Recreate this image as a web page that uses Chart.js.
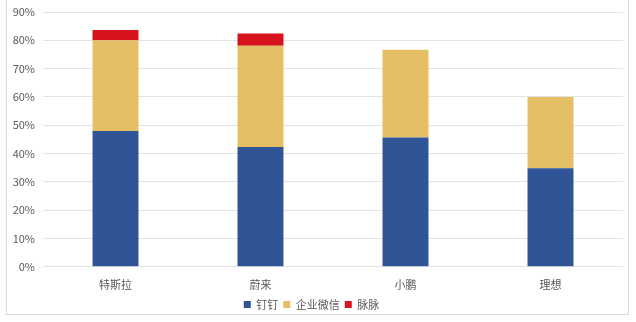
<!DOCTYPE html>
<html>
<head>
<meta charset="utf-8">
<script src="https://cdn.jsdelivr.net/npm/chart.js@4"></script>
<style>
  body { margin: 0; background: #fff; }
  #wrap { position: relative; width: 636px; height: 322px; }
  #frame { position: absolute; left: 6px; top: -3px; width: 623px; height: 318px; border: 1px solid #d9d9d9; box-sizing: border-box; }
  canvas { position: absolute; left: 0; top: 0; }
</style>
</head>
<body>
<div id="wrap">
  <div id="frame"></div>
  <canvas id="myChart" width="636" height="322"></canvas>
</div>
<script>
var brands = ["特斯拉", "蔚来", "小鹏", "理想"]
var dingding = [48, 42.3, 45.7, 34.8]
var wework = [32, 35.8, 31, 25.2]
var maimai = [3.6, 4.3, 0, 0]
var yTicks = [0, 10, 20, 30, 40, 50, 60, 70, 80, 90]

var font = "'Noto Sans CJK SC', 'Noto Sans', sans-serif"

var ctx = document.getElementById("myChart")
var myChart = new Chart(ctx, {
    type: 'bar',
    data: {
        labels: brands,
        datasets: [{
            label: '钉钉',
            data: dingding,
            backgroundColor: '#2f5597'
        }, {
            label: '企业微信',
            data: wework,
            backgroundColor: '#e5bf65'
        }, {
            label: '脉脉',
            data: maimai,
            backgroundColor: '#d7141e'
        }]
    },
    options: {
        responsive: false,
        animation: false,
        layout: {
            padding: { left: 0, right: 13, top: 0, bottom: 2 }
        },
        datasets: {
            bar: { categoryPercentage: 1, barPercentage: 0.317 }
        },
        scales: {
            x: {
                stacked: true,
                grid: { display: false },
                border: { display: false },
                ticks: { color: '#595959', font: { family: font, size: 11 }, padding: 3 }
            },
            y: {
                stacked: true,
                min: 0,
                max: 90,
                afterFit: function (scale) {
                    scale.width = 43
                    scale.paddingTop = 12
                },
                afterBuildTicks: function (scale) {
                    scale.ticks = yTicks.map(function (v) { return { value: v } })
                },
                grid: { color: '#e3e3e3', drawTicks: false },
                border: { display: false },
                ticks: {
                    color: '#595959',
                    font: { family: font, size: 11 },
                    padding: 8,
                    callback: function (v) { return v + '%' }
                }
            }
        },
        plugins: {
            tooltip: { enabled: false },
            legend: {
                position: 'bottom',
                labels: {
                    boxWidth: 7,
                    boxHeight: 7,
                    padding: 5,
                    color: '#595959',
                    font: { family: font, size: 11 }
                }
            }
        }
    }
})
</script>
</body>
</html>
